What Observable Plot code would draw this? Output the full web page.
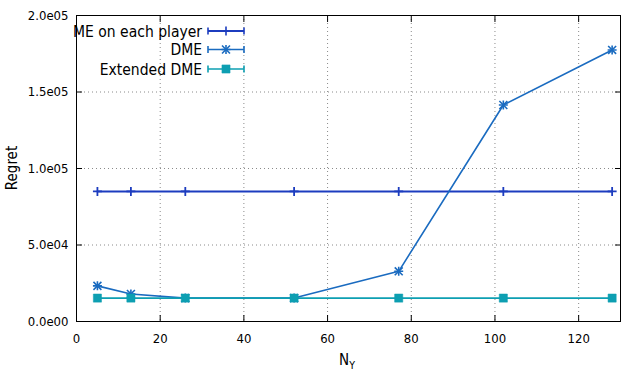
<!DOCTYPE html>
<html>
<head>
<meta charset="utf-8">
<script src="https://cdn.jsdelivr.net/npm/d3@7"></script>
<script src="https://cdn.jsdelivr.net/npm/@observablehq/plot@0.6"></script>
<style>
  html, body { margin: 0; padding: 0; background: white; }
  #chart { width: 640px; height: 387px; }
</style>
</head>
<body>
<div id="chart"></div>
<script>
const nY = [5, 13, 26, 52, 77, 102, 128];
const meEachPlayer = [85000, 85000, 85000, 85000, 85000, 85000, 85000];
const dme = [23300, 18000, 15300, 15300, 32800, 141500, 177500];
const extendedDme = [15300, 15300, 15300, 15300, 15300, 15300, 15300];
const seriesNames = ["ME on each player", "DME", "Extended DME"];
const seriesColors = ["#1c3cbf", "#1a6bc0", "#0d9fb2"];
const xTickValues = [0, 20, 40, 60, 80, 100, 120];
const yTickValues = [0, 50000, 100000, 150000, 200000];
const xGridValues = [20, 40, 60, 80, 100, 120];
const yGridValues = [50000, 100000, 150000];

const seriesValues = [meEachPlayer, dme, extendedDme];
const rows = seriesValues.map((vals, i) => nY.map((x, j) => ({x, y: vals[j], s: seriesNames[i]})));

function fmtExp(d) {
  if (d === 0) return "0.0e00";
  const e = Math.floor(Math.log10(d));
  const m = d / Math.pow(10, e);
  return m.toFixed(1) + "e" + String(e).padStart(2, "0");
}

const font = "'DejaVu Sans Condensed', 'DejaVu Sans', sans-serif";
const lineW = 1.6;

const plot = Plot.plot({
  width: 640,
  height: 387,
  marginLeft: 76,
  marginRight: 20,
  marginTop: 15,
  marginBottom: 66,
  style: {fontFamily: font, fontSize: "13px", color: "black", background: "white", overflow: "visible"},
  x: {domain: [0, 130], label: null},
  y: {domain: [0, 200000], label: null},
  marks: [
    Plot.gridX(xGridValues, {stroke: "#8a8a8a", strokeOpacity: 1, strokeDasharray: "1,3", strokeWidth: 1}),
    Plot.gridY(yGridValues, {stroke: "#8a8a8a", strokeOpacity: 1, strokeDasharray: "1,3", strokeWidth: 1}),
    // inward ticks
    Plot.axisX(xTickValues, {anchor: "bottom", tickSize: 6, dy: -6, tickFormat: () => "", label: null, strokeWidth: 1}),
    Plot.axisX(xTickValues, {anchor: "top", tickSize: 6, dy: 6, tickFormat: () => "", label: null, strokeWidth: 1}),
    Plot.axisY(yTickValues, {anchor: "left", tickSize: 6, dx: 6, tickFormat: () => "", label: null, strokeWidth: 1}),
    Plot.axisY(yTickValues, {anchor: "right", tickSize: 6, dx: -6, tickFormat: () => "", label: null, strokeWidth: 1}),
    // tick labels
    Plot.axisX(xTickValues, {anchor: "bottom", tickSize: 0, tickPadding: 12, label: null, fontSize: 13}),
    Plot.axisY(yTickValues, {anchor: "left", tickSize: 0, tickPadding: 8, tickFormat: fmtExp, label: null, fontSize: 13}),
    // series
    Plot.line(rows[0], {x: "x", y: "y", stroke: seriesColors[0], strokeWidth: 2}),
    Plot.dot(rows[0], {x: "x", y: "y", symbol: "plus", r: 3, stroke: seriesColors[0], strokeWidth: 1.8}),
    Plot.line(rows[1], {x: "x", y: "y", stroke: seriesColors[1], strokeWidth: lineW}),
    Plot.dot(rows[1], {x: "x", y: "y", symbol: "plus", r: 3, stroke: seriesColors[1], strokeWidth: 1.6}),
    Plot.dot(rows[1], {x: "x", y: "y", symbol: "times", r: 3.7, stroke: seriesColors[1], strokeWidth: 1.6}),
    Plot.line(rows[2], {x: "x", y: "y", stroke: seriesColors[2], strokeWidth: lineW}),
    Plot.dot(rows[2], {x: "x", y: "y", symbol: "square", r: 4.6, fill: seriesColors[2], stroke: seriesColors[2], strokeOpacity: 0.5, strokeWidth: 1}),
    Plot.frame({stroke: "black", strokeWidth: 1})
  ]
});

document.getElementById("chart").appendChild(plot);

// axis titles and legend drawn into the same SVG
const svg = d3.select(plot);
svg.append("text")
  .attr("transform", "translate(17,168) rotate(-90)")
  .attr("text-anchor", "middle")
  .attr("font-family", font)
  .attr("font-size", 15)
  .attr("fill", "black")
  .text("Regret");

const xl = svg.append("text")
  .attr("x", 347).attr("y", 365)
  .attr("text-anchor", "middle")
  .attr("font-family", font)
  .attr("font-size", 15)
  .attr("fill", "black");
xl.append("tspan").text("N");
xl.append("tspan").attr("font-size", 10.5).attr("dy", 4).text("Y");

const legend = svg.append("g").attr("font-family", font).attr("font-size", 15.5);
const legendRowsY = [31, 49.5, 69];
const symbols = [[d3.symbolPlus], [d3.symbolPlus, d3.symbolTimes], [d3.symbolSquare]];
const symbolSizes = [[28.3], [28.3, 43], [66]];
seriesNames.forEach((name, i) => {
  const y = legendRowsY[i];
  const c = seriesColors[i];
  legend.append("text").attr("x", 202).attr("y", y).attr("dy", "0.36em")
    .attr("text-anchor", "end").attr("fill", "black").text(name);
  legend.append("line").attr("x1", 208).attr("x2", 244).attr("y1", y).attr("y2", y)
    .attr("stroke", c).attr("stroke-width", i === 0 ? 2 : lineW);
  [208, 244].forEach(x => legend.append("line").attr("x1", x).attr("x2", x)
    .attr("y1", y - 3.5).attr("y2", y + 3.5).attr("stroke", c).attr("stroke-width", lineW));
  symbols[i].forEach((sym, k) => {
    const p = legend.append("path").attr("transform", `translate(226,${y})`)
      .attr("d", d3.symbol(sym, symbolSizes[i][k])());
    if (sym === d3.symbolSquare) p.attr("fill", c).attr("stroke", c).attr("stroke-opacity", 0.5);
    else p.attr("fill", "none").attr("stroke", c).attr("stroke-width", 1.6);
  });
});
</script>
</body>
</html>
